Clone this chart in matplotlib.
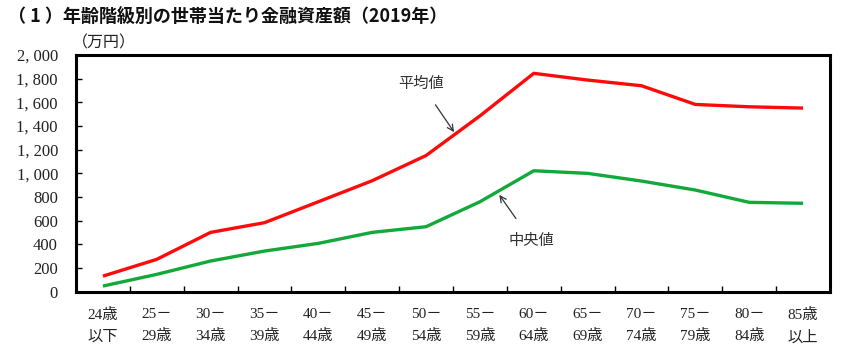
import matplotlib
matplotlib.use("Agg")
import matplotlib.pyplot as plt
from matplotlib.ticker import FixedLocator

plt.rcParams['font.family'] = ['Liberation Serif', 'Noto Sans CJK JP', 'DejaVu Sans']

categories = ["24歳\n以下", "25－\n29歳", "30－\n34歳", "35－\n39歳", "40－\n44歳",
              "45－\n49歳", "50－\n54歳", "55－\n59歳", "60－\n64歳", "65－\n69歳",
              "70－\n74歳", "75－\n79歳", "80－\n84歳", "85歳\n以上"]
mean_values = [130, 272, 500, 582, 759, 937, 1150, 1485, 1845, 1788, 1740, 1582, 1562, 1551]
median_values = [46, 145, 258, 342, 407, 500, 548, 759, 1021, 999, 934, 858, 754, 746]
y_ticks = [0, 200, 400, 600, 800, 1000, 1200, 1400, 1600, 1800, 2000]
y_ticklabels = ["0", "200", "400", "600", "800", "1, 000", "1, 200", "1, 400",
                "1, 600", "1, 800", "2, 000"]

fig = plt.figure(figsize=(8.5, 3.52), dpi=100)
ax = fig.add_axes([76/850, 1-291.5/352, (830-76)/850, (291.5-55)/352])

x = list(range(len(categories)))
ax.plot(x, mean_values, color='#ff0a0a', lw=2.4, solid_capstyle='butt', zorder=3)
ax.plot(x, median_values, color='#12a83a', lw=2.4, solid_capstyle='butt', zorder=3)

ax.set_xlim(-0.5, len(categories) - 0.5)
ax.set_ylim(0, 2000)
ax.set_xticks(x)
ax.set_xticklabels(categories, fontsize=11, color='#222222', linespacing=1.75)
ax.xaxis.set_minor_locator(FixedLocator([i + 0.5 for i in range(len(categories) - 1)]))
ax.tick_params(axis='x', which='major', length=0, pad=12)
ax.tick_params(axis='x', which='minor', direction='in', length=4, width=1)
ax.set_yticks(y_ticks)
ax.set_yticklabels(y_ticklabels, fontsize=12, color='#222222')
ax.tick_params(axis='y', direction='in', length=4, width=1, pad=13)

for s in ax.spines.values():
    s.set_linewidth(2.2)
    s.set_color('black')

ax.annotate("平均値", xy=(6.52, 1348), xytext=(5.9, 1762),
            fontsize=11, color='#333333', ha='center', va='center',
            family=['Noto Sans CJK JP'],
            arrowprops=dict(arrowstyle='->', color='#333333', lw=0.9,
                            shrinkA=9, shrinkB=0))
ax.annotate("中央値", xy=(7.36, 817), xytext=(7.95, 435),
            fontsize=11, color='#333333', ha='center', va='center',
            family=['Noto Sans CJK JP'],
            arrowprops=dict(arrowstyle='->', color='#333333', lw=0.9,
                            shrinkA=9, shrinkB=0))

fig.text(72/850, 1 - 43/352, "（万円）", fontsize=11.5, color='#222222',
         family=['Noto Sans CJK JP'], va='center', ha='left')
fig.text(8/850, 1 - 16/352, "（ 1 ）年齢階級別の世帯当たり金融資産額（2019年）",
         fontsize=13, fontweight='bold', color='#111111',
         family=['Noto Sans CJK JP'], va='center', ha='left')

fig.savefig("out.png", dpi=100)
